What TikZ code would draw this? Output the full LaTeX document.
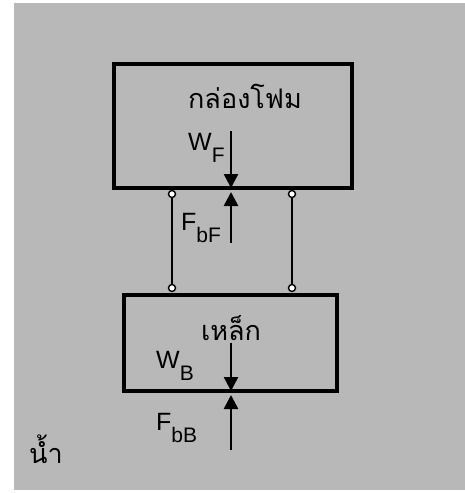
\documentclass[tikz,border=0pt]{standalone}
\usepackage{fontspec}
\setmainfont{Liberation Sans}
\newfontfamily\thaifont[Script=Thai]{Loma}
\usetikzlibrary{arrows.meta,positioning,calc}
\definecolor{waterbg}{gray}{0.72}
\newcommand{\lowsub}[1]{\raisebox{-12pt}{\fontsize{21}{21}\selectfont #1}}

\begin{document}
\begin{tikzpicture}[x=1pt, y=-1pt,
  body/.style={draw, line width=4pt, fill=waterbg, inner sep=0pt},
  joint/.style={circle, draw, line width=1.4pt, fill=white, inner sep=0pt, minimum size=7pt},
  rod/.style={line width=2pt},
  force/.style={-{Triangle[length=14pt,width=14pt]}, line width=2.6pt},
  thailbl/.style={font=\thaifont\fontsize{27}{30}\selectfont, inner sep=0pt},
  symlbl/.style={font=\fontsize{25}{28}\selectfont, inner sep=0pt}
]
  \useasboundingbox (0,0) rectangle (465,493);
  \fill[waterbg] (14,3) rectangle (465,490);

  % the two bodies
  \node[body, minimum width=238pt, minimum height=124pt] (foam) at (233,126) {};
  \node[body, minimum width=213pt, minimum height=96pt] (iron) at (230.5,343) {};
  \node[thailbl, anchor=base] (foamname) at (245,108) {กล่องโฟม};
  \node[thailbl, anchor=base] (ironname) at (231,340) {เหล็ก};
  \node[thailbl, anchor=base] (water) at (46,463) {น้ำ};

  % rods joining the bodies
  \node[joint] (jlt) at (172,194) {};
  \node[joint] (jlb) at (172,288) {};
  \node[joint] (jrt) at (292,194) {};
  \node[joint] (jrb) at (292,288) {};
  \draw[rod] (jlt) -- (jlb);
  \draw[rod] (jrt) -- (jrb);

  % forces
  \coordinate (wF) at (231,131);
  \coordinate (fbF) at (231,243);
  \coordinate (wB) at (231,343);
  \coordinate (fbB) at (231,450);
  \draw[force] (wF) -- ($(wF |- foam.south)+(0,-2)$);
  \draw[force] (fbF) -- ($(fbF |- foam.south)+(0,2)$);
  \draw[force] (wB) -- ($(wB |- iron.south)+(0,-2)$);
  \draw[force] (fbB) -- ($(fbB |- iron.south)+(0,2)$);

  \node[symlbl, anchor=base west] (wFlbl) at (188,150) {W\lowsub{F}};
  \node[symlbl, anchor=base west] (fbFlbl) at (181,230) {F\lowsub{bF}};
  \node[symlbl, anchor=base west] (wBlbl) at (156,368) {W\lowsub{B}};
  \node[symlbl, anchor=base west] (fbBlbl) at (156,430) {F\lowsub{bB}};
\end{tikzpicture}
\end{document}
